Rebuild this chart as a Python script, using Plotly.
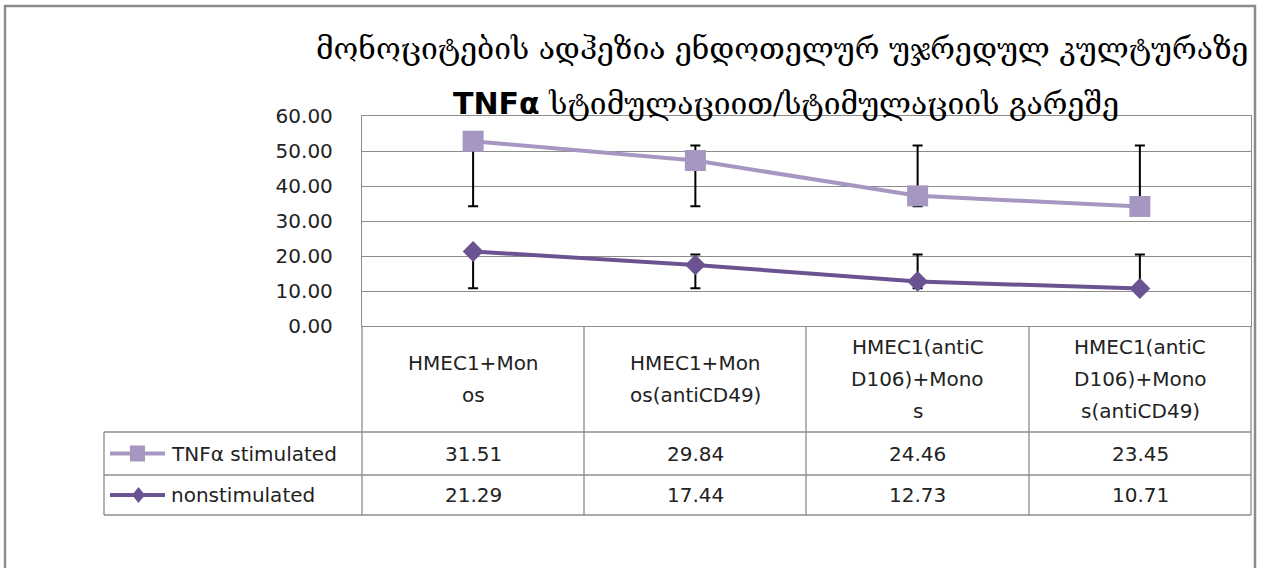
import numpy as np
import plotly.graph_objects as go

W, H = 1264, 568

categories = ["HMEC1+Monos", "HMEC1+Monos(antiCD49)", "HMEC1(antiCD106)+Monos", "HMEC1(antiCD106)+Monos(antiCD49)"]
category_lines = [
    ["HMEC1+Mon", "os"],
    ["HMEC1+Mon", "os(antiCD49)"],
    ["HMEC1(antiC", "D106)+Mono", "s"],
    ["HMEC1(antiC", "D106)+Mono", "s(antiCD49)"],
]
series_names = ["TNFα stimulated", "nonstimulated"]
tnf = [31.51, 29.84, 24.46, 23.45]
nonstim = [21.29, 17.44, 12.73, 10.71]
# error bar ends (absolute values)
tnf_err_low = [34.2, 34.2, 34.2, 34.2]
tnf_err_high = [51.6, 51.6, 51.6, 51.6]
nonstim_err_low = [10.8, 10.8, 10.8, 10.8]
nonstim_err_high = [20.4, 20.4, 20.4, 20.4]
y_ticks = [0, 10, 20, 30, 40, 50, 60]

title_1 = "მონოციტების ადჰეზია ენდოთელურ უჯრედულ კულტურაზე"
title_2 = ("<b><span style='font-family:\"DejaVu Sans\"'>TNFα</span></b>"
           " სტიმულაციით/სტიმულაციის გარეშე")

tnf_color = "#a597c1"
non_color = "#6b5291"
grid_color = "#8c8c8c"
text_color = "#222222"
font = "DejaVu Sans"
geo_font = "DejaVu Serif, DejaVu Sans"


def px(x):
    return x / W


def py(y):
    return 1 - y / H


# stacked line chart: the upper series sits on top of the lower one
nonstim_arr = np.array(nonstim)
tnf_stack = nonstim_arr + np.array(tnf)


def err(y, lo, hi):
    y = np.asarray(y)
    return dict(
        type="data",
        symmetric=False,
        array=np.clip(np.array(hi) - y, 0, None),
        arrayminus=np.clip(y - np.array(lo), 0, None),
        color="black",
        thickness=2,
        width=5,
    )


fig = go.Figure()
fig.add_trace(
    go.Scatter(
        x=categories,
        y=nonstim_arr,
        mode="lines+markers",
        name=series_names[1],
        line=dict(color=non_color, width=4),
        marker=dict(symbol="diamond", size=16, color=non_color),
        error_y=err(nonstim_arr, nonstim_err_low, nonstim_err_high),
    )
)
fig.add_trace(
    go.Scatter(
        x=categories,
        y=tnf_stack,
        mode="lines+markers",
        name=series_names[0],
        line=dict(color=tnf_color, width=4),
        marker=dict(symbol="square", size=21, color=tnf_color),
        error_y=err(tnf_stack, tnf_err_low, tnf_err_high),
    )
)

X0, X1, Y0, Y1 = 362, 1251, 326, 116
col_edges = [362, 584, 806, 1029, 1251]
row_hdr_bot, row1_bot, row2_bot = 432, 475, 515
tbl_left = 104

shapes = []
line_style = dict(color=grid_color, width=1.3)
# outer chart border
shapes.append(dict(type="rect", xref="paper", yref="paper", x0=px(5), x1=px(1255), y0=py(575), y1=py(6),
                   line=dict(color="#8c8c8c", width=2.5)))
# data table grid
for xe in col_edges:
    shapes.append(dict(type="line", xref="paper", yref="paper", x0=px(xe), x1=px(xe),
                       y0=py(Y0), y1=py(row2_bot), line=line_style))
shapes.append(dict(type="line", xref="paper", yref="paper", x0=px(tbl_left), x1=px(tbl_left),
                   y0=py(row_hdr_bot), y1=py(row2_bot), line=line_style))
for yr in [row_hdr_bot, row1_bot, row2_bot]:
    shapes.append(dict(type="line", xref="paper", yref="paper", x0=px(tbl_left), x1=px(X1),
                       y0=py(yr), y1=py(yr), line=line_style))

annotations = []
annotations.append(dict(text=title_1, xref="paper", yref="paper", x=px(782), y=py(48), showarrow=False,
                        xanchor="center", yanchor="middle", font=dict(family=geo_font, size=30, color="black")))
annotations.append(dict(text=title_2, xref="paper", yref="paper", x=px(786), y=py(103), showarrow=False,
                        xanchor="center", yanchor="middle", font=dict(family=geo_font, size=30, color="black")))

# category header cells
line_gap = 32
hdr_mid = (Y0 + row_hdr_bot) / 2
for i, lines in enumerate(category_lines):
    cx = (col_edges[i] + col_edges[i + 1]) / 2
    start = hdr_mid - line_gap * (len(lines) - 1) / 2
    for j, t in enumerate(lines):
        annotations.append(dict(text=t, xref="paper", yref="paper", x=px(cx), y=py(start + j * line_gap),
                                showarrow=False, xanchor="center", yanchor="middle",
                                font=dict(family=font, size=20, color=text_color)))

# value rows with legend keys
rows = [(series_names[0], tnf, tnf_color, "square", (row_hdr_bot + row1_bot) / 2),
        (series_names[1], nonstim, non_color, "diamond", (row1_bot + row2_bot) / 2)]
for name, vals, color, sym, ymid in rows:
    shapes.append(dict(type="line", xref="paper", yref="paper", x0=px(110), x1=px(165),
                       y0=py(ymid), y1=py(ymid), line=dict(color=color, width=4)))
    if sym == "square":
        shapes.append(dict(type="rect", xref="paper", yref="paper", x0=px(130), x1=px(145),
                           y0=py(ymid + 8), y1=py(ymid - 8), fillcolor=color, line=dict(width=0)))
    else:
        path = "M {} {} L {} {} L {} {} L {} {} Z".format(
            px(138.5), py(ymid - 8), px(145), py(ymid), px(138.5), py(ymid + 8), px(132), py(ymid))
        shapes.append(dict(type="path", xref="paper", yref="paper", path=path, fillcolor=color,
                           line=dict(width=0)))
    annotations.append(dict(text=name, xref="paper", yref="paper", x=px(169), y=py(ymid), showarrow=False,
                            xanchor="left", yanchor="middle", font=dict(family=font, size=20, color=text_color)))
    for i, v in enumerate(vals):
        cx = (col_edges[i] + col_edges[i + 1]) / 2
        annotations.append(dict(text=f"{v:.2f}", xref="paper", yref="paper", x=px(cx), y=py(ymid),
                                showarrow=False, xanchor="center", yanchor="middle",
                                font=dict(family=font, size=20, color=text_color)))

fig.update_layout(
    template="none",
    width=W,
    height=H,
    autosize=False,
    margin=dict(l=0, r=0, t=0, b=0, pad=0, autoexpand=False),
    paper_bgcolor="white",
    plot_bgcolor="white",
    showlegend=False,
    shapes=shapes,
    annotations=annotations,
    xaxis=dict(
        domain=[px(X0), px(X1)],
        range=[-0.5, 3.5],
        showticklabels=False,
        showgrid=False,
        showline=True,
        mirror=True,
        linecolor=grid_color,
        linewidth=1.3,
        zeroline=False,
        automargin=False,
        fixedrange=True,
    ),
    yaxis=dict(
        domain=[py(Y0), py(Y1)],
        range=[0, 60],
        tickvals=y_ticks,
        tickformat=".2f",
        ticks="",
        ticklabelstandoff=24,
        tickfont=dict(family=font, size=20, color=text_color),
        showgrid=True,
        gridcolor=grid_color,
        gridwidth=1.3,
        showline=True,
        mirror=True,
        linecolor=grid_color,
        linewidth=1.3,
        zeroline=False,
        automargin=False,
    ),
)

# pin the fixed-size figure to the window's top-left corner
pin = (
    "document.body.style.margin='0';document.body.style.overflow='hidden';"
    "var gd=document.getElementById('{plot_id}');"
    "gd.style.position='absolute';gd.style.top='0px';gd.style.left='0px';"
)
fig.write_html("out.html", config={"displayModeBar": False}, post_script=pin)
